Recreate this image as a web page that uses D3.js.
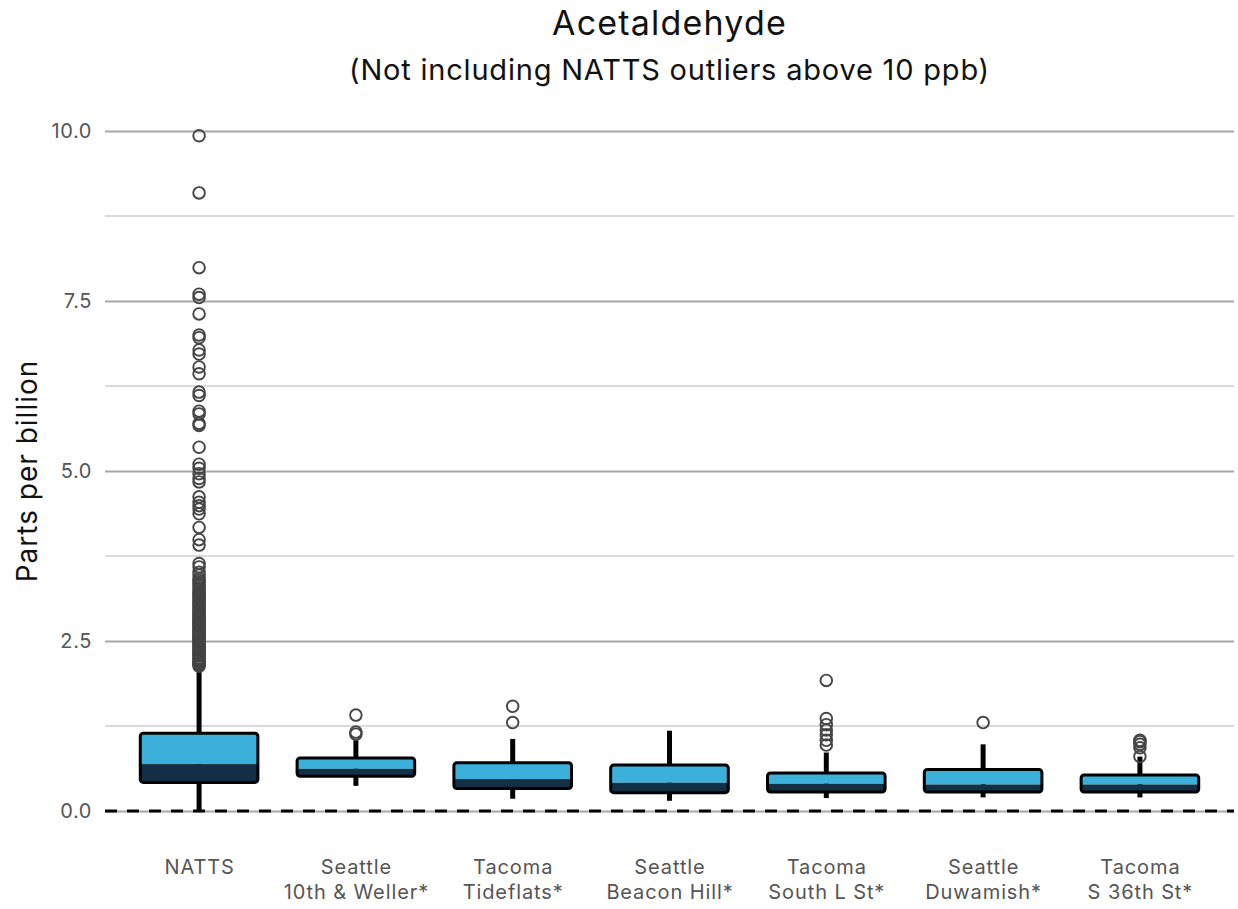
<!DOCTYPE html>
<html>
<head>
<meta charset="utf-8">
<script src="https://cdn.jsdelivr.net/npm/d3@7"></script>
<style>
  body { margin: 0; background: #fff; }
  text { font-family: Inter, "Open Sans", sans-serif; }
</style>
</head>
<body>
<div id="container"></div>
<script>
/* CONSTANTS AND GLOBALS */
const width = 1238,
  height = 909,
  margin = { top: 131, bottom: 98, left: 105, right: 4 }

/* DATA */
const sites = ["NATTS", "Seattle\n10th & Weller*", "Tacoma\nTideflats*", "Seattle\nBeacon Hill*",
  "Tacoma\nSouth L St*", "Seattle\nDuwamish*", "Tacoma\nS 36th St*"]
const whiskerLow = [0.01, 0.37, 0.18, 0.15, 0.19, 0.20, 0.20]
const q1 = [0.42, 0.51, 0.33, 0.27, 0.28, 0.28, 0.28]
const median = [0.69, 0.62, 0.47, 0.415, 0.40, 0.39, 0.39]
const q3 = [1.145, 0.78, 0.71, 0.675, 0.56, 0.61, 0.53]
const whiskerHigh = [2.10, 1.04, 1.06, 1.18, 0.86, 0.98, 0.80]

const outliersNATTS = [9.93, 9.09, 7.99, 7.60, 7.55, 7.31, 7.00, 6.96, 6.78, 6.72, 6.53, 6.43,
  6.16, 6.11, 5.88, 5.84, 5.70, 5.67, 5.35, 5.10, 5.04, 4.96, 4.89, 4.84, 4.62, 4.54, 4.49,
  4.44, 4.37, 4.17, 3.99, 3.91, 3.64, 3.59, 3.51, 3.47, 3.42, 3.39, 3.36, 3.33, 3.31, 3.28,
  3.25, 3.22, 3.20, 3.18, 3.16, 3.13, 3.11, 3.08, 3.06, 3.04, 3.01, 2.99, 2.97, 2.95, 2.93,
  2.91, 2.88, 2.87, 2.85, 2.82, 2.80, 2.79, 2.76, 2.75, 2.73, 2.72, 2.70, 2.67, 2.66, 2.64,
  2.62, 2.61, 2.59, 2.57, 2.55, 2.54, 2.52, 2.51, 2.49, 2.46, 2.45, 2.43, 2.41, 2.40, 2.37,
  2.36, 2.34, 2.32, 2.31, 2.29, 2.28, 2.25, 2.24, 2.22, 2.20, 2.19, 2.17, 2.16, 2.15, 2.13]
const outliersWeller = [1.41, 1.16, 1.13]
const outliersTideflats = [1.54, 1.30]
const outliersBeaconHill = []
const outliersSouthL = [1.92, 1.36, 1.27, 1.19, 1.12, 1.04, 0.97]
const outliersDuwamish = [1.30]
const outliers36th = [1.04, 1.02, 0.98, 0.93, 0.80]
const outliers = [outliersNATTS, outliersWeller, outliersTideflats, outliersBeaconHill,
  outliersSouthL, outliersDuwamish, outliers36th]

const majorTicks = [0, 2.5, 5, 7.5, 10]
const minorTicks = [1.25, 3.75, 6.25, 8.75]

const boxes = sites.map((s, i) => ({
  site: s, lo: whiskerLow[i], q1: q1[i], med: median[i], q3: q3[i], hi: whiskerHigh[i]
}))
const points = []
sites.forEach((s, i) => outliers[i].forEach(v => points.push({ site: s, value: v })))

// SCALES
const xScale = d3.scalePoint()
  .domain(sites)
  .range([margin.left, width - margin.right])
  .padding(0.6)

const yScale = d3.scaleLinear()
  .domain([0, 10])
  .range([811, margin.top])

const boxW = xScale.step() * 0.75

// SVG
const svg = d3.select("#container")
  .append("svg")
  .attr("width", width)
  .attr("height", height)

// GRID
svg.selectAll(".minor")
  .data(minorTicks)
  .join("line")
  .attr("class", "minor")
  .attr("x1", margin.left)
  .attr("x2", width - margin.right)
  .attr("y1", d => yScale(d))
  .attr("y2", d => yScale(d))
  .attr("stroke", "#b5b5b5")
  .attr("stroke-width", 1.2)

const yAxis = d3.axisLeft(yScale)
  .tickValues(majorTicks)
  .tickFormat(d3.format(".1f"))
  .tickSize(-(width - margin.right - margin.left))
  .tickPadding(13)

svg.append("g")
  .attr("class", "yAxis")
  .attr("transform", `translate(${margin.left},0)`)
  .call(yAxis)
  .call(g => g.select(".domain").remove())
  .call(g => g.selectAll(".tick line").attr("stroke", "#a6a6a6").attr("stroke-width", 2.2))
  .call(g => g.selectAll(".tick text").attr("fill", "#555").attr("font-size", 20)
    .attr("letter-spacing", 0.6))

// X AXIS LABELS
const xAxis = d3.axisBottom(xScale).tickSize(0).tickFormat("")
const xg = svg.append("g")
  .attr("class", "xAxis")
  .attr("transform", `translate(0,${height - 35})`)
  .call(xAxis)
xg.select(".domain").remove()
xg.selectAll(".tick").each(function (d) {
  const t = d3.select(this).append("text")
    .attr("fill", "#555")
    .attr("font-size", 20)
    .attr("letter-spacing", 0.9)
    .attr("text-anchor", "middle")
  d.split("\n").forEach((line, k) => {
    t.append("tspan").attr("x", 0).attr("y", k * 25).text(line)
  })
})

// WHISKERS
svg.selectAll(".whisker")
  .data(boxes)
  .join("line")
  .attr("class", "whisker")
  .attr("x1", d => xScale(d.site))
  .attr("x2", d => xScale(d.site))
  .attr("y1", d => yScale(d.lo))
  .attr("y2", d => yScale(d.hi))
  .attr("stroke", "#000")
  .attr("stroke-width", 5)

// BOXES
svg.selectAll(".upper")
  .data(boxes)
  .join("rect")
  .attr("class", "upper")
  .attr("x", d => xScale(d.site) - boxW / 2)
  .attr("width", boxW)
  .attr("y", d => yScale(d.q3))
  .attr("height", d => yScale(d.med) - yScale(d.q3))
  .attr("fill", "#3ab0db")

svg.selectAll(".lower")
  .data(boxes)
  .join("rect")
  .attr("class", "lower")
  .attr("x", d => xScale(d.site) - boxW / 2)
  .attr("width", boxW)
  .attr("y", d => yScale(d.med))
  .attr("height", d => yScale(d.q1) - yScale(d.med))
  .attr("fill", "#122f45")

svg.selectAll(".outline")
  .data(boxes)
  .join("rect")
  .attr("class", "outline")
  .attr("x", d => xScale(d.site) - boxW / 2)
  .attr("width", boxW)
  .attr("y", d => yScale(d.q3))
  .attr("height", d => yScale(d.q1) - yScale(d.q3))
  .attr("rx", 3)
  .attr("fill", "none")
  .attr("stroke", "#000")
  .attr("stroke-width", 3)

// OUTLIERS
svg.selectAll(".outlier")
  .data(points)
  .join("circle")
  .attr("class", "outlier")
  .attr("cx", d => xScale(d.site))
  .attr("cy", d => yScale(d.value))
  .attr("r", 5.8)
  .attr("fill", "none")
  .attr("stroke", "#444")
  .attr("stroke-width", 1.9)

// ZERO LINE
svg.append("line")
  .attr("x1", margin.left)
  .attr("x2", width - margin.right)
  .attr("y1", yScale(0))
  .attr("y2", yScale(0))
  .attr("stroke", "#000")
  .attr("stroke-width", 3)
  .attr("stroke-dasharray", "12,10")

// TITLES
svg.append("text")
  .attr("x", (margin.left + width - margin.right) / 2)
  .attr("y", 35)
  .attr("text-anchor", "middle")
  .attr("font-size", 34)
  .attr("letter-spacing", 1.2)
  .attr("fill", "#111")
  .text("Acetaldehyde")

svg.append("text")
  .attr("x", (margin.left + width - margin.right) / 2)
  .attr("y", 80)
  .attr("text-anchor", "middle")
  .attr("font-size", 29)
  .attr("letter-spacing", 0.8)
  .attr("fill", "#111")
  .text("(Not including NATTS outliers above 10 ppb)")

svg.append("text")
  .attr("transform", `translate(37,${(yScale(0) + yScale(10)) / 2}) rotate(-90)`)
  .attr("text-anchor", "middle")
  .attr("font-size", 28)
  .attr("letter-spacing", 1)
  .attr("fill", "#111")
  .text("Parts per billion")
</script>
</body>
</html>
